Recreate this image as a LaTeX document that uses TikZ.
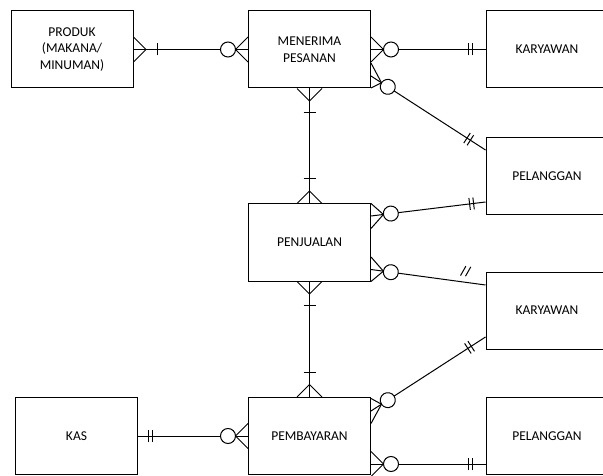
\documentclass[tikz,border=0pt]{standalone}
\usepackage{fontspec}
\setmainfont{Carlito}
\usetikzlibrary{calc,decorations.markings}
\tikzset{
  entity/.style={draw, minimum width=122pt, minimum height=77pt, inner sep=0pt,
    align=center, font=\fontsize{13.5}{16.5}\selectfont},
  crow start/.style={postaction={decorate, decoration={markings,
    mark=at position 12.5pt with {\draw (-12.5pt,12.5pt) -- (0pt,0pt) -- (-12.5pt,-12.5pt);}}}},
  crow end/.style={postaction={decorate, decoration={markings,
    mark=at position -12.5pt with {\draw (12.5pt,12.5pt) -- (0pt,0pt) -- (12.5pt,-12.5pt);}}}},
  zero/.style={postaction={decorate, decoration={markings,
    mark=at position #1 with {\draw [fill=white] (0pt,0pt) circle [radius=7.5pt];}}}},
  bar/.style={postaction={decorate, decoration={markings,
    mark=at position #1 with {\draw (0pt,-6pt) -- (0pt,6pt);}}}},
  slash/.style={postaction={decorate, decoration={markings,
    mark=at position #1 with {\draw (-5pt,6pt) -- (-1pt,16pt); \draw (0pt,6pt) -- (4pt,16pt);}}}},
}
\begin{document}
\begin{tikzpicture}[x=1pt, y=-1pt, line width=1pt]
  \useasboundingbox (0,0) rectangle (603,476);
  % entities
  \node [entity] (produk) at (72,49.5) {PRODUK\\(MAKANA/\\MINUMAN)};
  \node [entity] (menerima) at (309.5,49.5) {MENERIMA\\PESANAN};
  \node [entity] (karyawanA) at (547,49.5) {KARYAWAN};
  \node [entity] (pelangganA) at (547,176.5) {PELANGGAN};
  \node [entity] (penjualan) at (309.5,242.5) {PENJUALAN};
  \node [entity] (karyawanB) at (547,310.5) {KARYAWAN};
  \node [entity] (kas) at (76.5,436) {KAS};
  \node [entity] (pembayaran) at (309.5,436) {PEMBAYARAN};
  \node [entity] (pelangganB) at (547,436) {PELANGGAN};
  % end points of the slanted relations
  \coordinate (mpA) at ([yshift=-26.5pt]menerima.east);
  \coordinate (plA) at ([yshift=26.5pt]pelangganA.west);
  \coordinate (pjA) at ([yshift=26.5pt]penjualan.east);
  \coordinate (plB) at ([yshift=-25.5pt]pelangganA.west);
  \coordinate (pjB) at ([yshift=-27pt]penjualan.east);
  \coordinate (kwB) at ([yshift=25.5pt]karyawanB.west);
  \coordinate (pbA) at ([yshift=25pt]pembayaran.east);
  \coordinate (kwC) at ([yshift=-26.5pt]karyawanB.west);
  % relations
  \draw [crow start, bar=24pt, crow end, zero=-20pt] (produk.east) -- (menerima.west);
  \draw [crow start, zero=20pt, bar=-13pt, bar=-17pt] (menerima.east) -- (karyawanA.west);
  \draw [zero=20pt, bar=-18pt, bar=-22pt] (mpA) -- (plA);
  \draw ([yshift=13pt]mpA) -- ($(mpA)!12.5pt!(plA)$) -- ([yshift=-12pt]mpA);
  \draw [crow start, bar=24pt, crow end, bar=-25pt] (menerima.south) -- (penjualan.north);
  \draw [zero=20pt, bar=-12pt, bar=-16pt] (pjA) -- (plB);
  \draw ([yshift=12.5pt]pjA) -- ($(pjA)!12.5pt!(plB)$) -- ([yshift=-12.5pt]pjA);
  \draw [zero=20pt, slash=-21pt] (pjB) -- (kwB);
  \draw ([yshift=12.5pt]pjB) -- ($(pjB)!12.5pt!(kwB)$) -- ([yshift=-12pt]pjB);
  \draw [crow start, bar=24pt, crow end, bar=-25pt] (penjualan.south) -- (pembayaran.north);
  \draw [zero=20pt, bar=-17pt, bar=-21pt] (pbA) -- (kwC);
  \draw ([yshift=12.5pt]pbA) -- ($(pbA)!12.5pt!(kwC)$) -- ([yshift=-12.5pt]pbA);
  \draw [crow start, zero=20pt, bar=-13pt, bar=-17pt]
    ([yshift=-28pt]pembayaran.east) -- ([yshift=-28pt]pelangganB.west);
  \draw [bar=10pt, bar=14pt, crow end, zero=-20pt] (kas.east) -- (pembayaran.west);
\end{tikzpicture}
\end{document}
